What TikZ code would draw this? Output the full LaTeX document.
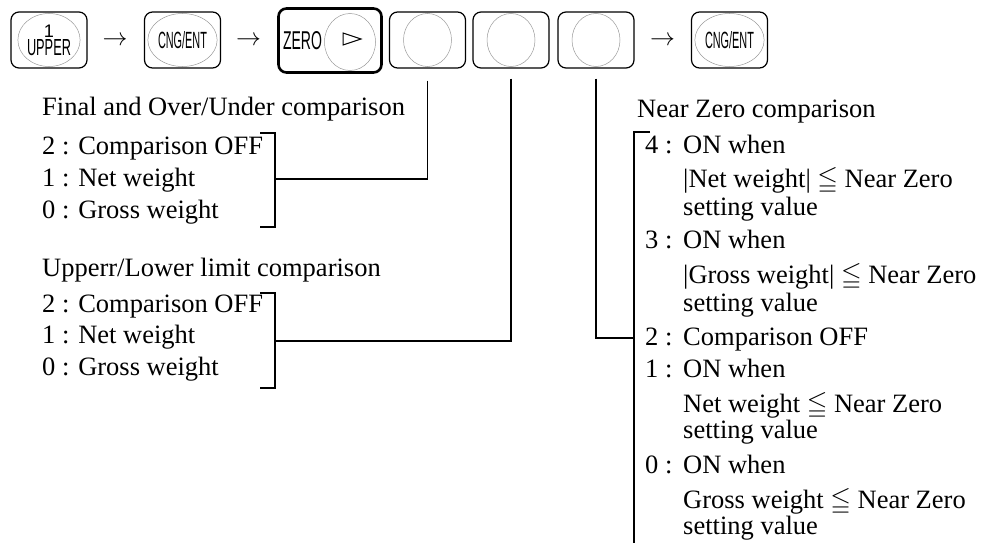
\documentclass[tikz,border=0pt]{standalone}
\usepackage{fontspec}
\usepackage{amssymb}
\usepackage{graphicx}
\setmainfont{Liberation Serif}
\setsansfont{Liberation Sans}
\usetikzlibrary{shapes.geometric}

% squeezed key lettering
\newcommand\keylabel[3]{\resizebox{#1}{#2}{\sffamily #3}}

\tikzset{
  key/.style={draw, rounded corners=8pt, line width=1.2pt,
    minimum width=76pt, minimum height=56pt, inner sep=0pt},
  zerokey/.style={key, line width=2.6pt, minimum width=103pt, minimum height=64pt},
  dial/.style={draw=gray!80, ellipse, line width=0.5pt,
    minimum width=48pt, minimum height=53pt, inner sep=0pt},
  keytext/.style={font=\fontsize{10}{10}\selectfont, align=center},
  txt/.style={anchor=base west, inner sep=0pt},
  wire/.style={line width=1.8pt},
}

\begin{document}
\begin{tikzpicture}[x=1pt,y=-1pt,font=\fontsize{26.5}{32}\selectfont]
\useasboundingbox (0,0) rectangle (987,543);

% --- Keys ---
\node[key] (k1) at (49,40) {};
\node[dial, keytext] (d1) at (k1)
  {\keylabel{!}{12.5pt}{1}\\[1pt]\keylabel{44pt}{16pt}{UPPER}};
\node (a1) at (115,41) {$\rightarrow$};
\node[key] (k2) at (182.5,40) {};
\node[dial, keytext] (d2) at (k2) {\keylabel{49pt}{17pt}{CNG/ENT}};
\node (a2) at (248.5,41) {$\rightarrow$};
\node[zerokey] (k3) at (330,40.5) {};
\node[inner sep=0pt] (zr) at (302.5,41) {\keylabel{39pt}{18pt}{ZERO}};
\node[dial, minimum width=51pt, minimum height=57pt] (d3) at (350,42) {};
\draw[line width=1pt] ([shift={(-7,-9)}]d3.center) -- ([shift={(11,-3)}]d3.center)
  -- ([shift={(-7,3)}]d3.center) -- cycle;
\node[key] (k4) at (427.5,40) {};
\node[dial] (d4) at (k4) {};
\node[key] (k5) at (511,40) {};
\node[dial] (d5) at (k5) {};
\node[key] (k6) at (596,40) {};
\node[dial] (d6) at (k6) {};
\node (a3) at (662.5,41) {$\rightarrow$};
\node[key] (k7) at (729.5,40) {};
\node[dial, keytext] (d7) at (k7) {\keylabel{49pt}{17pt}{CNG/ENT}};

% --- Brackets ---
\draw[wire] (260,133) -- (275,133) -- (275,227) -- (260,227);
\draw[wire] (260,293) -- (275,293) -- (275,388) -- (260,388);
\draw[wire] (650,132) -- (634,132) -- (634,543);
\coordinate (b1) at (275,179);
\coordinate (b2) at (275,341);
\coordinate (b3) at (634,338);

% --- Wires ---
\draw[wire] ([shift={(0,12)}]k4.south) |- (b1);
\draw[wire] ([shift={(0,10)}]k5.south) |- (b2);
\draw[wire] ([shift={(0,10)}]k6.south) |- (b3);

% --- Final and Over/Under ---
\node[txt] (fo) at (42,115) {Final and Over/Under comparison};
\node[txt] (fo2) at (42,154) {2 : Comparison OFF};
\node[txt] (fo1) at (42,186.5) {1 : Net weight};
\node[txt] (fo0) at (42,218) {0 : Gross weight};

% --- Upper/Lower ---
\node[txt] (ul) at (42,276) {Upperr/Lower limit comparison};
\node[txt] (ul2) at (42,312) {2 : Comparison OFF};
\node[txt] (ul1) at (42,343.5) {1 : Net weight};
\node[txt] (ul0) at (42,375) {0 : Gross weight};

% --- Near Zero ---
\node[txt] (nz) at (637,117) {Near Zero comparison};
\foreach \n/\y in {4/153, 3/248, 2/345, 1/377, 0/473}
  \node[txt] (nz\n) at (645,\y) {\n\ :};
\node[txt] (nz4a) at (683,153) {ON when};
\node[txt] (nz4b) at (683,187) {|Net weight| $\leqq$ Near Zero};
\node[txt] (nz4c) at (683,215) {setting value};
\node[txt] (nz3a) at (683,248) {ON when};
\node[txt] (nz3b) at (683,283) {|Gross weight| $\leqq$ Near Zero};
\node[txt] (nz3c) at (683,311) {setting value};
\node[txt] (nz2a) at (683,345) {Comparison OFF};
\node[txt] (nz1a) at (683,377) {ON when};
\node[txt] (nz1b) at (683,412) {Net weight $\leqq$ Near Zero};
\node[txt] (nz1c) at (683,438) {setting value};
\node[txt] (nz0a) at (683,473) {ON when};
\node[txt] (nz0b) at (683,508) {Gross weight $\leqq$ Near Zero};
\node[txt] (nz0c) at (683,534) {setting value};

\end{tikzpicture}
\end{document}
